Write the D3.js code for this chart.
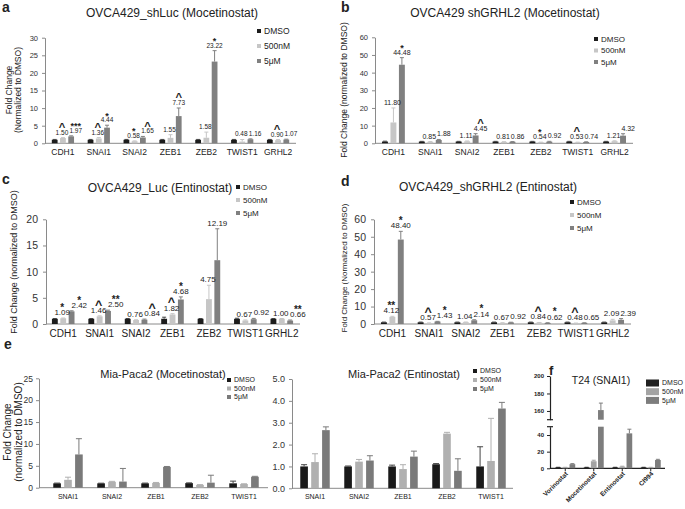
<!DOCTYPE html>
<html><head><meta charset="utf-8">
<script src="https://cdn.jsdelivr.net/npm/d3@7"></script>
<style>body{margin:0;background:#fff}</style>
</head><body><script>
// ---------- DATA ----------
const series = ["DMSO","500nM","5μM"];
const genes = ["CDH1","SNAI1","SNAI2","ZEB1","ZEB2","TWIST1","GRHL2"];

// a: OVCA429_shLuc (Mocetinostat)
const aDMSO = [1,1,1,1,1,1,1];
const a500  = [1.50,1.36,0.58,1.55,1.58,0.48,0.90];
const a5uM  = [1.97,4.44,1.65,7.73,23.22,1.16,1.07];
const aErrDMSO = [0.1,0.1,0.1,0.1,0.1,0.1,0.1];
const aErr500  = [0.1,0.25,0.1,0.9,1.6,0.6,0.15];
const aErr5uM  = [0.15,0.7,0.3,2.3,3.1,0.1,0.1];
const aSig500  = ["^","^","*","","","","^"];
const aSig5uM  = ["***","*","^","^","*","",""];
const aTicks = [0,5,10,15,20,25,30];

// b: OVCA429 shGRHL2 (Mocetinostat)
const bDMSO = [1,1,1,1,1,1,1];
const b500  = [11.80,0.85,1.11,0.81,0.54,0.53,1.21];
const b5uM  = [44.48,1.88,4.45,0.86,0.92,0.74,4.32];
const bErrDMSO = [0.2,0.1,0.1,0.1,0.1,0.1,0.1];
const bErr500  = [8.2,0.1,0.2,0.1,0.1,0.1,0.2];
const bErr5uM  = [4.0,0.3,1.0,0.1,0.2,0.1,1.1];
const bSig500  = ["","","","","*","^",""];
const bSig5uM  = ["*","","^","","","",""];
const bTicks = [0,10,20,30,40,50,60];

// c: OVCA429_Luc (Entinostat)
const cDMSO = [1,1,1,1,1,1,1];
const c500  = [1.09,1.46,0.76,1.82,4.75,0.67,1.00];
const c5uM  = [2.42,2.50,0.84,4.68,12.19,0.92,0.66];
const cErrDMSO = [0.05,0.05,0.05,0.3,0.05,0.1,0.05];
const cErr500  = [0.05,0.1,0.05,0.15,2.65,0.1,0.05];
const cErr5uM  = [0.1,0.15,0.1,0.5,6.0,0.15,0.1];
const cSig500  = ["*","^","","^","","",""];
const cSig5uM  = ["*","**","^","*","","","**"];
const cTicks = [0,5,10,15,20];

// d: OVCA429_shGRHL2 (Entinostat)
const dDMSO = [1,1,1,1,1,1,1];
const d500  = [4.12,0.57,1.04,0.67,0.84,0.48,2.09];
const d5uM  = [48.40,1.43,2.14,0.92,0.62,0.65,2.39];
const dErrDMSO = [0.1,0.1,0.1,0.1,0.1,0.1,0.1];
const dErr500  = [0.3,0.05,0.1,0.05,0.05,0.05,0.6];
const dErr5uM  = [4.7,0.1,0.3,0.1,0.1,0.05,0.7];
const dSig500  = ["**","^","","","^","^",""];
const dSig5uM  = ["*","*","*","","*","",""];
const dTicks = [0,10,20,30,40,50,60];

// e: Mia-Paca2
const eGenes = ["SNAI1","SNAI2","ZEB1","ZEB2","TWIST1"];
const eMoceDMSO = [1.0,1.0,1.0,1.05,1.0];
const eMoce500  = [1.8,1.35,1.1,0.65,0.85];
const eMoce5uM  = [7.6,1.4,4.75,1.15,2.5];
const eMoceErrDMSO = [0.05,0.03,0.05,0.05,0.5];
const eMoceErr500  = [0.6,0.1,0.1,0.05,0.05];
const eMoceErr5uM  = [3.6,3.0,0.1,1.7,0.1];
const eMoceTicks = [0,5,10,15,20,25];

const eEntDMSO = [1.0,1.0,1.0,1.1,1.0];
const eEnt500  = [1.2,1.22,0.88,2.5,1.25];
const eEnt5uM  = [2.66,1.27,1.45,0.8,3.65];
const eEntErrDMSO = [0.08,0.02,0.06,0.03,0.9];
const eEntErr500  = [0.38,0.1,0.2,0.06,1.95];
const eEntErr5uM  = [0.15,0.22,0.25,0.55,0.28];
const eEntTicks = [0,1,2,3,4,5];

// f: T24 (SNAI1)
const fDrugs = ["Vorinostat","Mocetinostat","Entinostat","CI994"];
const fDMSO = [1,1,1,1];
const f500  = [1,8.5,2,1];
const f5uM  = [5,161,42,10];
const fErrDMSO = [0.2,0.2,0.2,0.2];
const fErr500  = [0.2,1.2,0.5,0.2];
const fErr5uM  = [0.6,8,5,0.8];
const fTicksLow = [0,20,40];
const fTicksHigh = [160,180,200];

// ---------- DRAW ----------
const FONT = "'Liberation Sans', Arial, Helvetica, sans-serif";
const AX = "#8a8a8a", TXT = "#222";
const colABCD = ["#1c1c1c","#c6c6c6","#808080"];
const colE = ["#1a1a1a","#b0b0b0","#7a7a7a"];
const colF = ["#202020","#a3a3a3","#7d7d7d"];

const svg = d3.select("body").append("svg").attr("width",685).attr("height",509)
  .attr("font-family",FONT);

function txt(g,x,y,s,fs,opt={}){
  const t=g.append("text").attr("x",x).attr("y",y).attr("font-size",fs).attr("fill",opt.fill||TXT)
    .attr("text-anchor",opt.anchor||"start").text(s);
  if(opt.bold) t.attr("font-weight","bold");
  if(opt.rot) t.attr("transform",`rotate(-90,${x},${y})`);
  return t;
}

function legend(x,y0,dy,sw,sh,fs,cols){
  const g=svg.append("g");
  series.forEach((s,i)=>{
    g.append("rect").attr("x",x).attr("y",y0+i*dy-sh/2).attr("width",sw).attr("height",sh).attr("fill",cols[i]);
    txt(g,x+sw+3,y0+i*dy+fs*0.35,s,fs);
  });
}

function grouped(o){
  const g=svg.append("g");
  const x0=d3.scaleBand().domain(o.cats).range(o.xr).paddingInner(o.pin).paddingOuter(o.pin/2);
  const x1=d3.scaleBand().domain(series).range([0,x0.bandwidth()]).paddingInner(o.bpin);
  const y=d3.scaleLinear().domain(o.yd).range(o.yr);
  const ax=g.append("g").attr("transform",`translate(${o.axisX},0)`)
    .call(d3.axisLeft(y).tickValues(o.ticks).tickSize(3).tickSizeOuter(0).tickPadding(o.tpad));
  ax.select(".domain").attr("stroke",AX);
  ax.selectAll(".tick line").attr("stroke",AX);
  ax.selectAll(".tick text").attr("font-size",o.tickFont).attr("fill","#333").attr("font-family",FONT);
  g.append("line").attr("x1",o.axisX).attr("x2",o.xEnd).attr("y1",y(0)).attr("y2",y(0)).attr("stroke",AX);
  g.selectAll("text.cat").data(o.cats).join("text").attr("class","cat")
    .attr("x",d=>x0(d)+x0.bandwidth()/2).attr("y",y(0)+o.catDy)
    .attr("text-anchor","middle").attr("font-size",o.catFont).attr("fill",TXT).text(d=>d);
  const rows=o.cats.flatMap((c,i)=>series.map((s,si)=>({c,s,si,v:o.vals[si][i],e:o.errs[si][i],
    sig: si===1?(o.sig500?o.sig500[i]:""):si===2?(o.sig5u?o.sig5u[i]:""):""})));
  const bw=x1.bandwidth();
  const cx=d=>x0(d.c)+x1(d.s)+bw/2;
  g.selectAll("rect.bar").data(rows).join("rect").attr("class","bar")
    .attr("x",d=>x0(d.c)+x1(d.s)).attr("y",d=>y(d.v)).attr("width",bw)
    .attr("height",d=>y(0)-y(d.v)).attr("fill",d=>o.colors[d.si]);
  const er=rows.filter(d=>d.e>0);
  const ecol=d=>d.si===0?"#444":o.colors[d.si];
  g.selectAll("line.ev").data(er).join("line").attr("class","ev")
    .attr("x1",cx).attr("x2",cx).attr("y1",d=>y(d.v)).attr("y2",d=>y(d.v+d.e)).attr("stroke",ecol);
  g.selectAll("line.ec").data(er).join("line").attr("class","ec")
    .attr("x1",d=>cx(d)-o.cap).attr("x2",d=>cx(d)+o.cap).attr("y1",d=>y(d.v+d.e)).attr("y2",d=>y(d.v+d.e)).attr("stroke",ecol);
  if(o.labels){
    const lg=g.append("g");
    o.cats.forEach(c=>{
      const bc=x0(c)+x0.bandwidth()/2;
      const r1=rows.find(d=>d.c===c&&d.si===1), r2=rows.find(d=>d.c===c&&d.si===2);
      const y1=y(r1.v+r1.e)-o.labGap, y2=y(r2.v+r2.e)-o.labGap;
      const near=Math.abs(y2-y1)<o.valFont*1.3;
      const t1=lg.append("text").attr("x",bc-1).attr("y",y1).attr("text-anchor","middle")
        .attr("font-size",o.valFont).attr("fill",TXT).text(r1.v.toFixed(2));
      const w1=t1.node().getComputedTextLength();
      let x2c;
      const t2=lg.append("text").attr("y",y2).attr("font-size",o.valFont).attr("fill",TXT).text(r2.v.toFixed(2));
      const w2=t2.node().getComputedTextLength();
      if(near){ x2c=bc-1+w1/2+o.valGapX+w2/2; } else { x2c=cx(r2); }
      t2.attr("x",x2c).attr("text-anchor","middle");
      [[r1,bc-1,y1],[r2,x2c,y2]].forEach(([r,xx,yy])=>{
        if(!r.sig) return;
        const car=r.sig==="^";
        const fs=car?o.sigFont*1.25:o.sigFont;
        lg.append("text").attr("x",xx).attr("y",yy-o.valFont*0.75-2.5+fs*(car?0.34:0.42))
          .attr("text-anchor","middle").attr("font-weight","bold").attr("font-size",fs)
          .attr("fill",TXT).text(r.sig);
      });
    });
  }
  return {x0,y};
}

// panel letters
txt(svg,2,12,"a",14,{bold:true});
txt(svg,341,12,"b",14,{bold:true});
txt(svg,2,184,"c",14,{bold:true});
txt(svg,341,186,"d",14,{bold:true});
txt(svg,4,349,"e",14,{bold:true});
txt(svg,549,375,"f",13,{bold:true});

// ---- a ----
grouped({cats:genes,vals:[aDMSO,a500,a5uM],errs:[aErrDMSO,aErr500,aErr5uM],sig500:aSig500,sig5u:aSig5uM,
  xr:[45,296],pin:0.38,bpin:0.3,yd:[0,30],yr:[143.3,37.7],axisX:45,xEnd:296,ticks:aTicks,tickFont:7.5,tpad:4,
  catFont:8.5,catDy:12,colors:colABCD,cap:2,labels:true,labGap:3,valGapX:1.2,valFont:6.5,sigFont:9});
txt(svg,172,17,"OVCA429_shLuc (Mocetinostat)",12,{anchor:"middle"});
txt(svg,12,90,"Fold Change",8.5,{anchor:"middle",rot:true});
txt(svg,21,90,"(Normalized to DMSO)",8.5,{anchor:"middle",rot:true});
legend(257,31,15,4,4,8.5,colABCD);

// ---- b ----
grouped({cats:genes,vals:[bDMSO,b500,b5uM],errs:[bErrDMSO,bErr500,bErr5uM],sig500:bSig500,sig5u:bSig5uM,
  xr:[375,633],pin:0.38,bpin:0.3,yd:[0,60],yr:[143.3,37.3],axisX:375,xEnd:633,ticks:bTicks,tickFont:7.5,tpad:4,
  catFont:8.5,catDy:12,colors:colABCD,cap:2,labels:true,labGap:3,valGapX:1,valFont:7,sigFont:9});
txt(svg,505,17,"OVCA429 shGRHL2 (Mocetinostat)",12,{anchor:"middle"});
txt(svg,347,90,"Fold Change (normalized to DMSO)",8.5,{anchor:"middle",rot:true});
legend(594,39,11.5,4,4,8,colABCD);

// ---- c ----
grouped({cats:genes,vals:[cDMSO,c500,c5uM],errs:[cErrDMSO,cErr500,cErr5uM],sig500:cSig500,sig5u:cSig5uM,
  xr:[45,300],pin:0.38,bpin:0.3,yd:[0,20],yr:[324,219.3],axisX:46,xEnd:300,ticks:cTicks,tickFont:10.5,tpad:5,
  catFont:10,catDy:13,colors:colABCD,cap:2,labels:true,labGap:3,valGapX:1.5,valFont:8,sigFont:10});
txt(svg,160,192,"OVCA429_Luc (Entinostat)",12,{anchor:"middle"});
txt(svg,17,262,"Fold Change (normalized to DMSO)",9,{anchor:"middle",rot:true});
legend(236,187,13,4,4,8,colABCD);

// ---- d ----
grouped({cats:genes,vals:[dDMSO,d500,d5uM],errs:[dErrDMSO,dErr500,dErr5uM],sig500:dSig500,sig5u:dSig5uM,
  xr:[374,631],pin:0.38,bpin:0.3,yd:[0,60],yr:[324,219.3],axisX:374,xEnd:631,ticks:dTicks,tickFont:10.5,tpad:5,
  catFont:10,catDy:13,colors:colABCD,cap:2,labels:true,labGap:3,valGapX:1,valFont:8,sigFont:10});
txt(svg,488,191,"OVCA429_shGRHL2 (Entinostat)",12,{anchor:"middle"});
txt(svg,347,268,"Fold Change (Normalized to DMSO)",8,{anchor:"middle",rot:true});
legend(570,202,13,4,4,8,colABCD);

// ---- e left ----
grouped({cats:eGenes,vals:[eMoceDMSO,eMoce500,eMoce5uM],errs:[eMoceErrDMSO,eMoceErr500,eMoceErr5uM],
  xr:[46,266],pin:0.33,bpin:0.3,yd:[0,25],yr:[487.7,378.3],axisX:39,xEnd:268,ticks:eMoceTicks,tickFont:8.5,tpad:3,
  catFont:7,catDy:11,colors:colE,cap:3,labels:false});
txt(svg,163,378,"Mia-Paca2 (Mocetinostat)",11,{anchor:"middle"});
txt(svg,11,432,"Fold Change",10,{anchor:"middle",rot:true});
txt(svg,22,432,"(normalized to DMSO)",10,{anchor:"middle",rot:true});
legend(227,380,8.5,4,4,7,colE);

// ---- e right ----
grouped({cats:eGenes,vals:[eEntDMSO,eEnt500,eEnt5uM],errs:[eEntErrDMSO,eEntErr500,eEntErr5uM],
  xr:[293,513],pin:0.33,bpin:0.3,yd:[0,5],yr:[488.3,379],axisX:292,xEnd:513,ticks:eEntTicks,tickFont:9,tpad:4,
  catFont:7,catDy:11,colors:colE,cap:3,labels:false});
txt(svg,404,378,"Mia-Paca2 (Entinostat)",11,{anchor:"middle"});
legend(473,371,9,4,4,7,colE);

// ---- f (broken axis) ----
(function(){
  const g=svg.append("g");
  const x0=d3.scaleBand().domain(fDrugs).range([551,665]).paddingInner(0.3).paddingOuter(0.15);
  const x1=d3.scaleBand().domain(series).range([0,x0.bandwidth()]).paddingInner(0.2);
  const yL=d3.scaleLinear().domain([0,50]).range([468.3,426.7]);
  const yH=d3.scaleLinear().domain([150,200]).range([419.7,376]);
  const axL=g.append("g").attr("transform","translate(550,0)")
    .call(d3.axisLeft(yL).tickValues(fTicksLow).tickSize(3).tickSizeOuter(0).tickPadding(3));
  const axH=g.append("g").attr("transform","translate(550,0)")
    .call(d3.axisLeft(yH).tickValues(fTicksHigh).tickSize(3).tickSizeOuter(0).tickPadding(3));
  [axL,axH].forEach(a=>{
    a.select(".domain").attr("stroke","#222").attr("stroke-width",1.2);
    a.selectAll(".tick line").attr("stroke","#222");
    a.selectAll(".tick text").attr("font-size",6).attr("font-weight","bold").attr("fill","#222").attr("font-family",FONT);
  });
  [yL(50),yH(150)].forEach(yy=>g.append("line").attr("x1",547).attr("x2",553).attr("y1",yy).attr("y2",yy).attr("stroke","#222").attr("stroke-width",1.2));
  g.append("line").attr("x1",550).attr("x2",665).attr("y1",yL(0)).attr("y2",yL(0)).attr("stroke","#222").attr("stroke-width",1.2);
  const rows=fDrugs.flatMap((c,i)=>series.map((s,si)=>({c,s,si,
    v:[fDMSO,f500,f5uM][si][i], e:[fErrDMSO,fErr500,fErr5uM][si][i]})));
  const bw=x1.bandwidth();
  const cx=d=>x0(d.c)+x1(d.s)+bw/2;
  g.selectAll("rect.lo").data(rows).join("rect").attr("class","lo")
    .attr("x",d=>x0(d.c)+x1(d.s)).attr("width",bw)
    .attr("y",d=>yL(Math.min(d.v,50))).attr("height",d=>yL(0)-yL(Math.min(d.v,50))).attr("fill",d=>colF[d.si]);
  const hi=rows.filter(d=>d.v>150);
  g.selectAll("rect.hi").data(hi).join("rect").attr("class","hi")
    .attr("x",d=>x0(d.c)+x1(d.s)).attr("width",bw)
    .attr("y",d=>yH(d.v)).attr("height",d=>yH(150)-yH(d.v)).attr("fill",d=>colF[d.si]);
  const ys=d=>d.v>50?yH:yL;
  g.selectAll("line.ev").data(rows).join("line").attr("class","ev")
    .attr("x1",cx).attr("x2",cx).attr("y1",d=>ys(d)(d.v)).attr("y2",d=>ys(d)(d.v+d.e)).attr("stroke",d=>colF[d.si]);
  g.selectAll("line.ec").data(rows).join("line").attr("class","ec")
    .attr("x1",d=>cx(d)-2).attr("x2",d=>cx(d)+2).attr("y1",d=>ys(d)(d.v+d.e)).attr("y2",d=>ys(d)(d.v+d.e)).attr("stroke",d=>colF[d.si]);
  g.selectAll("line.xt").data(fDrugs).join("line").attr("class","xt")
    .attr("x1",d=>x0(d)+x0.bandwidth()/2).attr("x2",d=>x0(d)+x0.bandwidth()/2)
    .attr("y1",yL(0)).attr("y2",yL(0)+3).attr("stroke","#222");
  g.selectAll("text.xl").data(fDrugs).join("text").attr("class","xl")
    .attr("transform",d=>`translate(${x0(d)+x0.bandwidth()/2+3},${yL(0)+6}) rotate(-45)`)
    .attr("text-anchor","end").attr("font-size",6.5).attr("font-weight","bold").attr("fill","#222").text(d=>d);
  txt(svg,601,384,"T24 (SNAI1)",10.5,{anchor:"middle"});
  legend(646,383,8.7,13,7,7,colF);
})();
</script></body></html>
